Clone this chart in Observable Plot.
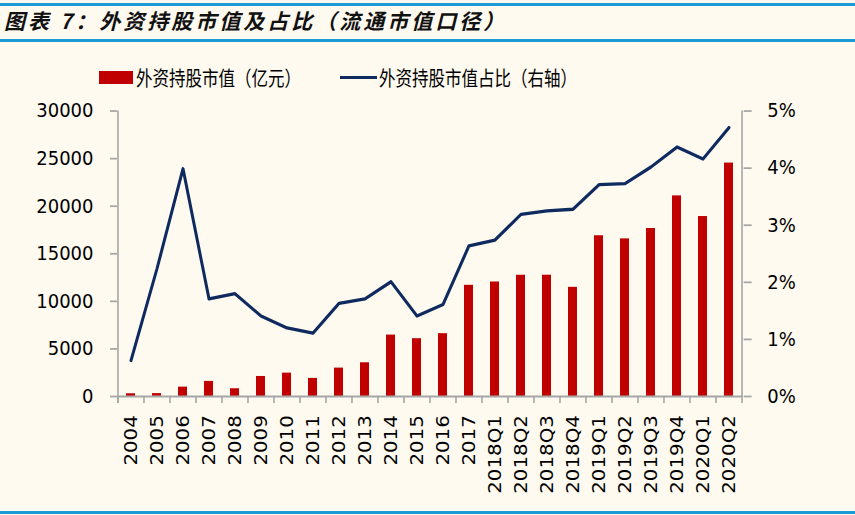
<!DOCTYPE html>
<html><head><meta charset="utf-8">
<script src="https://cdn.jsdelivr.net/npm/d3@7"></script>
<script src="https://cdn.jsdelivr.net/npm/@observablehq/plot@0.6"></script>
<style>
html,body{margin:0;padding:0;background:#fefaf0;}
#wrap{position:relative;width:855px;height:515px;overflow:hidden;background:#fefaf0;}
.rule{position:absolute;left:0;width:855px;height:3px;background:#1b9ad6;}
#title{position:absolute;left:4px;top:6px;font-family:"Noto Sans CJK SC";font-size:21px;font-style:italic;font-weight:700;letter-spacing:3px;color:#111;white-space:nowrap;line-height:28px;}
.lg{position:absolute;font-family:"Noto Sans CJK SC";font-size:16.5px;color:#000;white-space:nowrap;line-height:24px;top:65px;transform:scaleY(1.25);transform-origin:50% 50%;}
.sw{position:absolute;}
#chart{position:absolute;left:0;top:95px;}
#chart svg{transform:scaleY(1.1);transform-origin:0 0;overflow:visible;}
</style>
</head><body>
<div id="wrap">
  <div class="rule" style="top:3px"></div>
  <div id="title">图表 7：外资持股市值及占比（流通市值口径）</div>
  <div class="rule" style="top:39px"></div>
  <div class="sw" style="left:99px;top:71px;width:34px;height:13px;background:#c00000"></div>
  <div class="lg" id="lg1" style="left:136px"></div>
  <div class="sw" style="left:340px;top:76px;width:37px;height:3px;background:#0e2a5e"></div>
  <div class="lg" id="lg2" style="left:379px"></div>
  <div id="chart"></div>
  <div class="rule" style="top:511px"></div>
</div>
<script>
const categories = ["2004","2005","2006","2007","2008","2009","2010","2011","2012","2013","2014","2015","2016","2017",
  "2018Q1","2018Q2","2018Q3","2018Q4","2019Q1","2019Q2","2019Q3","2019Q4","2020Q1","2020Q2"];
const holdings = [280, 300, 980, 1580, 810, 2100, 2450, 1900, 2980, 3540, 6450, 6070, 6600, 11680,
  12030, 12740, 12740, 11470, 16890, 16560, 17650, 21080, 18910, 24530];
const share = [0.63, 2.24, 3.99, 1.71, 1.80, 1.41, 1.20, 1.11, 1.63, 1.71, 2.01, 1.41, 1.61, 2.64,
  2.74, 3.19, 3.25, 3.28, 3.71, 3.73, 4.02, 4.37, 4.16, 4.71];
const leftTicks = [0, 5000, 10000, 15000, 20000, 25000, 30000];
const rightTicks = [0, 1, 2, 3, 4, 5];
const seriesNames = ["外资持股市值（亿元）", "外资持股市值占比（右轴）"];

document.getElementById("lg1").textContent = seriesNames[0];
document.getElementById("lg2").textContent = seriesNames[1];

const leftMax = leftTicks[leftTicks.length - 1];
const rightMax = rightTicks[rightTicks.length - 1];
const k = leftMax / rightMax;
const rows = categories.map((c, i) => ({cat: c, value: holdings[i], pct: share[i]}));

const W = 855, mL = 117, mR = 112.3;
const step = (W - mL - mR) / categories.length;
const tickLen = leftMax * 0.025;
const gray = "#a6a6a6";

const chart = Plot.plot({
  width: W, height: 377.2,
  marginLeft: mL, marginRight: mR, marginTop: 14.1, marginBottom: 103.6,
  style: {background: "transparent", fontFamily: "DejaVu Sans", fontSize: "18px", color: "#000", overflow: "visible"},
  x: {domain: categories, paddingInner: 0.65, paddingOuter: 0.325, axis: null},
  y: {domain: [0, leftMax], axis: null},
  marks: [
    Plot.barY(rows, {x: "cat", y: "value", fill: "#c00000"}),
    Plot.ruleY([0], {stroke: gray, strokeWidth: 1.6}),
    Plot.ruleX(categories, {x: d => d, dx: -step / 2, y1: 0, y2: -tickLen, stroke: gray, strokeWidth: 1.6}),
    Plot.ruleX([categories[0]], {x: d => d, dx: -step / 2, y1: -tickLen, y2: leftMax, stroke: gray, strokeWidth: 1.6}),
    Plot.ruleX([categories[categories.length - 1]], {x: d => d, dx: step / 2, y1: -tickLen, y2: leftMax, stroke: gray, strokeWidth: 1.6}),
    Plot.lineY(rows, {x: "cat", y: d => d.pct * k, stroke: "#0e2a5e", strokeWidth: 3}),
    Plot.axisY({anchor: "left", ticks: leftTicks, tickSize: 7, tickPadding: 17, tickFormat: d => String(d), label: null, stroke: gray, strokeWidth: 1.6}),
    Plot.axisY({anchor: "right", ticks: rightTicks.map(p => p * k), tickFormat: v => `${Math.round(v / k)}%`, tickSize: 8, tickPadding: 16, label: null, stroke: gray, strokeWidth: 1.6}),
    Plot.axisX({tickSize: 0, tickRotate: -90, tickPadding: 17, label: null})
  ]
});
document.getElementById("chart").appendChild(chart);
</script>
</body></html>
